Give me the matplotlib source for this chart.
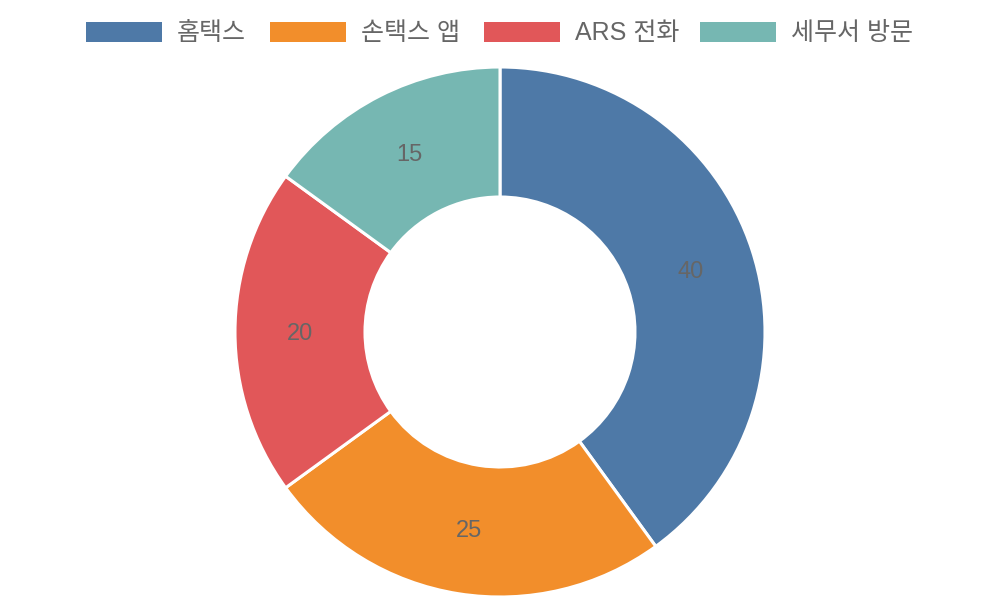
import matplotlib
matplotlib.use("Agg")
import matplotlib.pyplot as plt
from matplotlib.patches import Rectangle
import numpy as np

categories = ["홈택스", "손택스 앱", "ARS 전화", "세무서 방문"]
values = [40, 25, 20, 15]
colors = ["#4e79a7", "#f28e2b", "#e15759", "#76b7b2"]

plt.rcParams['font.family'] = ['Liberation Sans', 'Noto Sans CJK KR', 'DejaVu Sans']

fig = plt.figure(figsize=(10, 6), dpi=100)
ax = fig.add_axes([0, 0, 1, 1])
ax.axis('off')

R_OUT = 265
R_IN = 135
cx, cy = 500, 268

wedges, texts = ax.pie(values, colors=colors, startangle=90, counterclock=False,
                       radius=R_OUT, center=(cx, cy), labels=None,
                       wedgeprops=dict(width=R_OUT - R_IN, edgecolor='white', linewidth=2.2))
ax.set_xlim(0, 1000)
ax.set_ylim(0, 600)
ax.set_aspect('auto')

total = sum(values)
start = 90
r_lab = (R_OUT + R_IN) / 2
for v in values:
    ang = start - v / total * 360 / 2
    x = cx + r_lab * np.cos(np.radians(ang))
    y = cy + r_lab * np.sin(np.radians(ang))
    ax.text(x, y - 1.5, str(v), ha='center', va='center', fontsize=17, color='#666666')
    start -= v / total * 360

# legend
box_x = [86, 270, 484, 700]
for bx, lab, col in zip(box_x, categories, colors):
    ax.add_patch(Rectangle((bx, 600 - 42), 76, 20, facecolor=col, edgecolor='none'))
    ax.text(bx + 91, 600 - 33, lab, ha='left', va='center', fontsize=18, color='#666666')

fig.savefig("out.png", dpi=100)
